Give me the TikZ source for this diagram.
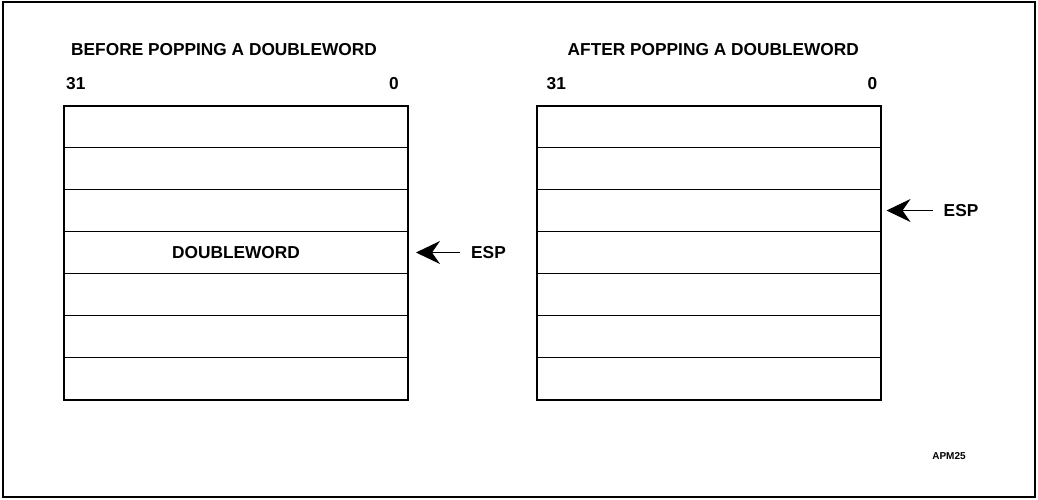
\documentclass[tikz,border=0pt]{standalone}
\usepackage{fontspec}
\setmainfont{Liberation Sans}
\usepackage{tikz}
\usetikzlibrary{positioning}
\usetikzlibrary{matrix}
\usetikzlibrary{arrows.meta}
\tikzset{
    txt/.style={inner sep=0pt, font=\bfseries\fontsize{17.3}{19}\selectfont},
    slot/.style={draw, line width=1pt, minimum width=344pt, minimum height=42pt,%
    outer sep=0pt, inner sep=0pt, font=\bfseries\fontsize{17.3}{19}\selectfont},
    stack/.style={matrix of nodes, ampersand replacement=\&, nodes in empty cells,%
    inner sep=0pt, row sep=-1pt, nodes={slot}},
    ptr/.style={-{Stealth[length=24pt, width=23pt, inset=8pt]}, line width=1pt},
}
\begin{document}
\begin{tikzpicture}[x=1pt, y=-1pt]
                    \useasboundingbox (0,0) rectangle (1038,499);
                    \draw[line width=2pt] (3,2) rectangle (1035,497);
                    % before
                    \matrix (before) [stack] at (236,252.5) {
                        \\ \\ \\ DOUBLEWORD \\ \\ \\ \\
                    };
                    \draw[line width=2pt] (before-1-1.north west) rectangle (before-7-1.south east);
                    \node (bhi) [txt, above right=16pt and 2pt of before-1-1.north west] {31};
                    \node (blo) [txt, above left=16pt and 9pt of before-1-1.north east] {0};
                    \node (btitle) [txt, above right=21pt and 5pt of bhi.north west] {BEFORE POPPING A DOUBLEWORD};
                    \node (besp) [txt, right=63pt of before-4-1.east] {ESP};
                    \draw[ptr, shorten <=11pt, shorten >=8pt] (besp.west) -- (before-4-1.east);
                    % after
                    \matrix (after) [stack] at (708.5,252.5) {
                        \\ \\ \\ \\ \\ \\ \\
                    };
                    \draw[line width=2pt] (after-1-1.north west) rectangle (after-7-1.south east);
                    \node (ahi) [txt, above right=16pt and 10pt of after-1-1.north west] {31};
                    \node (alo) [txt, above left=16pt and 3pt of after-1-1.north east] {0};
                    \node (atitle) [txt, above right=21pt and 21pt of ahi.north west] {AFTER POPPING A DOUBLEWORD};
                    \node (aesp) [txt, right=63pt of after-3-1.east] {ESP};
                    \draw[ptr, shorten <=11pt, shorten >=6pt] (aesp.west) -- (after-3-1.east);
                    \node (fig) [inner sep=0pt, font=\bfseries\fontsize{10}{12}\selectfont] at (949,456) {APM25};
                \end{tikzpicture}
\end{document}
